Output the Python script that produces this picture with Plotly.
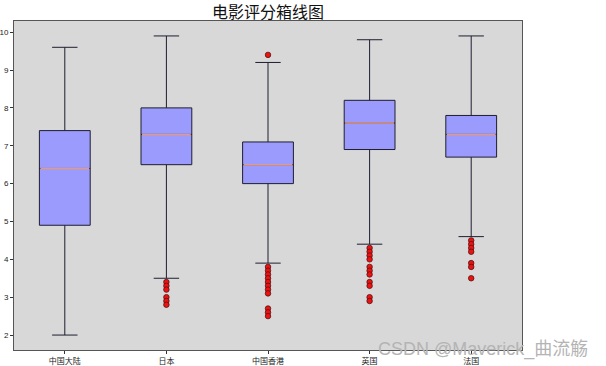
import plotly.graph_objects as go

categories = ["中国大陆", "日本", "中国香港", "英国", "法国"]
q1 = [4.9, 6.5, 6.0, 6.9, 6.7]
median = [6.4, 7.3, 6.5, 7.6, 7.3]
q3 = [7.4, 8.0, 7.1, 8.2, 7.8]
lower_whisker = [2.0, 3.5, 3.9, 4.4, 4.6]
upper_whisker = [9.6, 9.9, 9.2, 9.8, 9.9]
outliers = [
    [],
    [3.4, 3.3, 3.2, 3.0, 2.9, 2.8],
    [9.4, 3.8, 3.7, 3.6, 3.5, 3.4, 3.3, 3.2, 3.1, 2.7, 2.6, 2.5],
    [4.3, 4.2, 4.1, 4.0, 3.8, 3.7, 3.6, 3.4, 3.3, 3.0, 2.9],
    [4.5, 4.4, 4.3, 4.2, 3.9, 3.8, 3.5],
]
y_ticks = [2, 3, 4, 5, 6, 7, 8, 9, 10]

positions = list(range(1, len(categories) + 1))
box_width = 0.5

fig = go.Figure()
for i, pos in enumerate(positions):
    fig.add_trace(go.Box(
        x=[pos], q1=[q1[i]], median=[median[i]], q3=[q3[i]],
        lowerfence=[lower_whisker[i]], upperfence=[upper_whisker[i]],
        width=box_width, whiskerwidth=0.5,
        fillcolor="#9b9bfd", line=dict(color="#1e1e30", width=1),
        boxpoints=False, showlegend=False, hoverinfo="skip",
    ))
    # median line (separate colour, as in the original)
    fig.add_trace(go.Scatter(
        x=[pos - box_width / 2 + 0.01, pos + box_width / 2 - 0.01],
        y=[median[i], median[i]], mode="lines",
        line=dict(color="#e39a85", width=1.5), showlegend=False, hoverinfo="skip",
    ))
    if outliers[i]:
        fig.add_trace(go.Scatter(
            x=[pos] * len(outliers[i]), y=outliers[i], mode="markers",
            marker=dict(color="#ee1111", size=5.5, line=dict(color="#551111", width=0.8)),
            showlegend=False, hoverinfo="skip",
        ))

fig.update_layout(
    width=606, height=366,
    margin=dict(l=14, r=84, t=21, b=16, autoexpand=False),
    paper_bgcolor="white", plot_bgcolor="#d8d8d8",
    title=dict(text="电影评分箱线图", x=(14 + 522) / 2 / 606, xanchor="center",
               y=1 - 12 / 366, yanchor="middle",
               font=dict(family="Noto Sans CJK SC", size=16, color="#111111")),
    font=dict(family="Noto Sans CJK SC", size=8, color="#222222"),
)
fig.update_xaxes(
    range=[0.5, len(categories) + 0.5], tickvals=positions, ticktext=categories,
    showgrid=False, zeroline=False, ticks="outside", ticklen=3, tickcolor="#333333",
    showline=True, linecolor="#555555", linewidth=1, mirror=True, automargin=False,
    tickfont=dict(family="Noto Sans CJK SC", size=8),
)
fig.update_yaxes(
    range=[1.605, 10.295], tickvals=y_ticks, showgrid=False, zeroline=False,
    ticks="outside", ticklen=3, tickcolor="#333333", automargin=False,
    showline=True, linecolor="#555555", linewidth=1, mirror=True,
    tickfont=dict(family="Liberation Sans", size=8),
)
fig.add_annotation(
    text="CSDN @Maverick_曲流觞", xref="paper", yref="paper",
    x=(590 - 14) / (522 - 14), y=(366 - 16 - 349) / (366 - 37),
    xanchor="right", yanchor="middle", showarrow=False,
    font=dict(family="Liberation Sans, Noto Sans CJK SC", size=18, color="#b4b4b4"),
)

fig.write_html("out.html", config={"displayModeBar": False},
               post_script="document.body.style.margin='0';")
